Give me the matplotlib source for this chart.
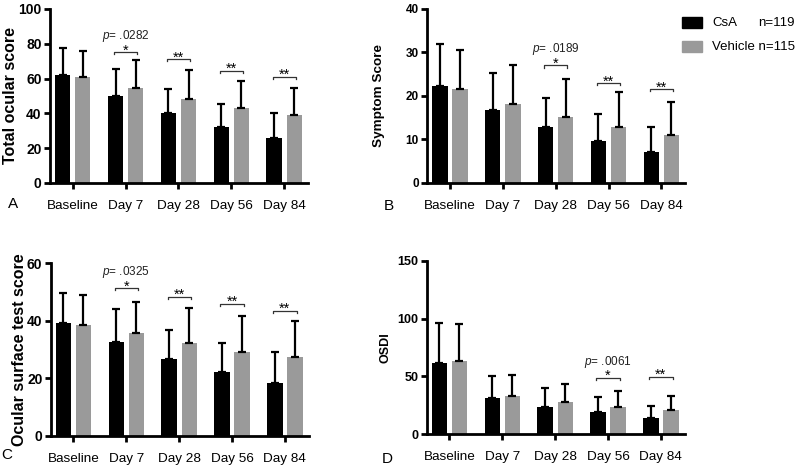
import numpy as np
import matplotlib.pyplot as plt
from matplotlib.patches import Rectangle

plt.rcParams['font.family'] = ['Liberation Sans', 'DejaVu Sans']
plt.rcParams['mathtext.fontset'] = 'custom'
plt.rcParams['mathtext.it'] = 'Liberation Sans:italic'
plt.rcParams['mathtext.rm'] = 'Liberation Sans'

days = ['Baseline', 'Day 7', 'Day 28', 'Day 56', 'Day 84']

# A - total ocular score
tos_csa = [62.0, 49.8, 40.0, 32.1, 25.6]
tos_csa_sd = [15.8, 15.9, 13.8, 13.4, 14.8]
tos_veh = [60.7, 54.6, 48.4, 42.9, 39.0]
tos_veh_sd = [15.2, 15.9, 16.4, 15.9, 15.8]
tos_sig = ['', '*', '**', '**', '**']
tos_sig_y = [0, 75, 71, 64.5, 61]
tos_p = ['', '.0282', '', '', '']

# B - symptom score
sym_csa = [22.3, 16.8, 12.8, 9.7, 7.0]
sym_csa_sd = [9.6, 8.4, 6.8, 6.1, 5.8]
sym_veh = [21.5, 18.1, 15.2, 12.9, 11.0]
sym_veh_sd = [9.0, 9.1, 8.6, 8.0, 7.7]
sym_sig = ['', '', '*', '**', '**']
sym_sig_y = [0, 0, 27.0, 22.9, 21.5]
sym_p = ['', '', '.0189', '', '']

# C - ocular surface test score
ost_csa = [39.2, 32.5, 26.6, 22.1, 18.3]
ost_csa_sd = [10.4, 11.5, 10.2, 10.1, 11.0]
ost_veh = [38.6, 35.7, 32.4, 29.3, 27.3]
ost_veh_sd = [10.4, 11.0, 12.0, 12.4, 12.7]
ost_sig = ['', '*', '**', '**', '**']
ost_sig_y = [0, 51.3, 48.4, 45.8, 43.5]
ost_p = ['', '.0325', '', '', '']

# D - OSDI
osdi_csa = [61.9, 31.1, 23.9, 19.0, 13.8]
osdi_csa_sd = [34.0, 19.3, 16.4, 13.0, 10.7]
osdi_veh = [63.6, 33.1, 28.2, 23.9, 21.0]
osdi_veh_sd = [31.4, 18.4, 15.3, 13.3, 12.1]
osdi_sig = ['', '', '', '*', '**']
osdi_sig_y = [0, 0, 0, 48.9, 49.3]
osdi_p = ['', '', '', '.0061', '']

GRAY = '#9a9a9a'


def panel(ax, csa, csa_sd, veh, veh_sd, sig, sig_y, pvals, ymax, ystep,
          ylabel, ylab_size, ylab_x, ytick_size):
    x = np.arange(len(days))
    w = 0.29
    off = 0.19
    zeros = np.zeros(len(days))
    ax.bar(x - off, csa, w, color='black', zorder=2)
    ax.bar(x + off, veh, w, color=GRAY, zorder=2)
    ax.errorbar(x - off, csa, yerr=[zeros, csa_sd], fmt='none', ecolor='black',
                elinewidth=1.6, capsize=3, capthick=1.6, zorder=3)
    ax.errorbar(x + off, veh, yerr=[zeros, veh_sd], fmt='none', ecolor='black',
                elinewidth=1.6, capsize=3, capthick=1.6, zorder=3)

    ax.set_xlim(-0.43, 4.45)
    ax.set_ylim(0, ymax)
    ax.set_yticks(np.arange(0, ymax + 1, ystep))
    ax.set_xticks(x)
    ax.set_xticklabels(days, fontsize=9.7)
    for t in ax.get_yticklabels():
        t.set_fontweight('bold')
        t.set_fontsize(ytick_size)
    ax.tick_params(axis='both', direction='out', length=4, width=2, pad=2)
    ax.tick_params(axis='x', pad=8)
    for s in ['top', 'right']:
        ax.spines[s].set_visible(False)
    for s in ['left', 'bottom']:
        ax.spines[s].set_linewidth(2)

    ax.set_ylabel(ylabel, fontsize=ylab_size, fontweight='bold')
    ax.yaxis.set_label_coords(ylab_x, 0.5)

    # significance brackets
    dy = ymax * 0.012
    for i in range(len(days)):
        if sig[i] == '':
            continue
        y = sig_y[i]
        ax.plot([i - 0.22, i - 0.22, i + 0.22, i + 0.22], [y - dy, y, y, y - dy],
                color='#333333', lw=0.9, zorder=3, clip_on=False)
        ax.annotate(sig[i], (i, y), xytext=(0, -2), textcoords='offset pixels',
                    ha='center', va='baseline', fontsize=10.5)
        if pvals[i]:
            ax.annotate('$p$= ' + pvals[i], (i, y), xytext=(0, 13),
                        textcoords='offset pixels', ha='center', va='baseline',
                        fontsize=8.5, color='#222222')


fig = plt.figure(figsize=(8, 4.69), dpi=100)

axA = fig.add_axes([0.0625, 0.61, 0.3225, 0.371])
panel(axA, tos_csa, tos_csa_sd, tos_veh, tos_veh_sd, tos_sig, tos_sig_y, tos_p,
      100, 20, 'Total ocular score', 11.5, -0.125, 10)

axB = fig.add_axes([0.534, 0.61, 0.3225, 0.371])
panel(axB, sym_csa, sym_csa_sd, sym_veh, sym_veh_sd, sym_sig, sym_sig_y, sym_p,
      40, 10, 'Symptom Score', 9.7, -0.163, 8.5)

axC = fig.add_axes([0.0634, 0.0704, 0.3225, 0.368])
panel(axC, ost_csa, ost_csa_sd, ost_veh, ost_veh_sd, ost_sig, ost_sig_y, ost_p,
      60, 20, 'Ocular surface test score', 11.5, -0.09, 10)

axD = fig.add_axes([0.5334, 0.074, 0.3225, 0.370])
panel(axD, osdi_csa, osdi_csa_sd, osdi_veh, osdi_veh_sd, osdi_sig, osdi_sig_y, osdi_p,
      150, 50, 'OSDI', 9.0, -0.138, 9)

# panel letters
for lab, px, py in [('A', 13, 204), ('B', 389, 206), ('C', 7, 455), ('D', 387, 459)]:
    fig.text(px / 800, 1 - py / 469, lab, ha='center', va='center', fontsize=11)

# legend
fig.add_artist(Rectangle((682 / 800, 1 - 28 / 469), 20 / 800, 11 / 469,
                         transform=fig.transFigure, color='black'))
fig.add_artist(Rectangle((682 / 800, 1 - 52 / 469), 20 / 800, 11 / 469,
                         transform=fig.transFigure, color=GRAY))
fig.text(712 / 800, 1 - 22.5 / 469, 'CsA', va='center', fontsize=9.5)
fig.text(758 / 800, 1 - 22.5 / 469, 'n=119', va='center', fontsize=9.5)
fig.text(712 / 800, 1 - 46.5 / 469, 'Vehicle n=115', va='center', fontsize=9.5)

fig.savefig('out.png', dpi=100)
